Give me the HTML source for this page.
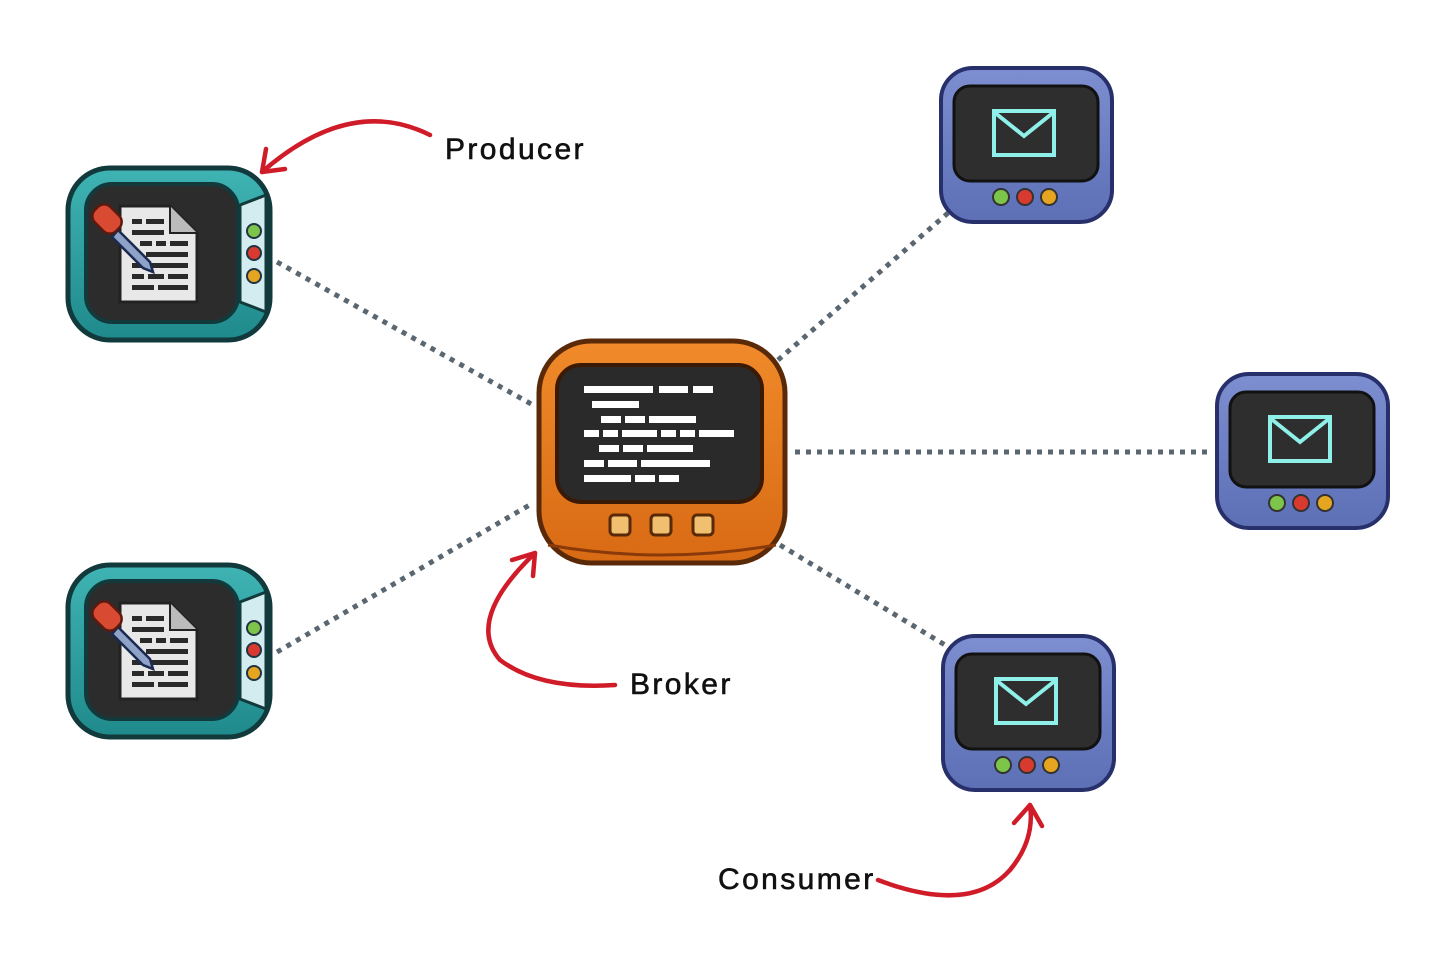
<!DOCTYPE html>
<html><head><meta charset="utf-8"><style>
html,body{margin:0;padding:0;background:#fff;}
svg{display:block}
text{font-family:"Liberation Sans",sans-serif;font-size:30px;fill:#111;stroke:#111;stroke-width:0.6;letter-spacing:2.4px}
</style></head><body>
<svg width="1456" height="969" viewBox="0 0 1456 969" xmlns="http://www.w3.org/2000/svg">
<defs>
<linearGradient id="teal" x1="0" y1="0" x2="0" y2="1"><stop offset="0" stop-color="#3fb3b3"/><stop offset="1" stop-color="#1f8a8c"/></linearGradient>
<linearGradient id="org" x1="0" y1="0" x2="0" y2="1"><stop offset="0" stop-color="#f08a2a"/><stop offset="1" stop-color="#d86a14"/></linearGradient>
<linearGradient id="blu" x1="0" y1="0" x2="0" y2="1"><stop offset="0" stop-color="#7d8fd0"/><stop offset="1" stop-color="#5d6fb5"/></linearGradient>
<g id="prod">
 <rect x="68" y="168" width="202" height="172" rx="42" fill="url(#teal)" stroke="#123a3c" stroke-width="5"/>
 <path d="M240 205 L266 195 L266 312 L240 302 Z" fill="#d3ecef" stroke="#123a3c" stroke-width="3"/>
 <rect x="86" y="184" width="152" height="138" rx="26" fill="#2c2c2c" stroke="#123a3c" stroke-width="4"/>
 <circle cx="254" cy="231" r="7" fill="#7cc44a" stroke="#234" stroke-width="2"/>
 <circle cx="254" cy="253" r="7" fill="#d93a30" stroke="#234" stroke-width="2"/>
 <circle cx="254" cy="276" r="7" fill="#e6a520" stroke="#234" stroke-width="2"/>
 <path d="M120 206 L170 206 L197 233 L197 302 L120 302 Z" fill="#e8e8e8" stroke="#222" stroke-width="3"/>
 <path d="M170 206 L170 233 L197 233" fill="#bbb" stroke="#222" stroke-width="2"/>
 <g fill="#2a2a2a">
  <rect x="132" y="219" width="10" height="5"/><rect x="146" y="219" width="18" height="5"/>
  <rect x="132" y="230" width="32" height="5"/>
  <rect x="140" y="241" width="12" height="5"/><rect x="156" y="241" width="10" height="5"/><rect x="170" y="241" width="18" height="5"/>
  <rect x="132" y="252" width="10" height="5"/><rect x="146" y="252" width="42" height="5"/>
  <rect x="132" y="263" width="56" height="5"/>
  <rect x="132" y="274" width="12" height="5"/><rect x="148" y="274" width="16" height="5"/><rect x="168" y="274" width="20" height="5"/>
  <rect x="132" y="285" width="22" height="5"/><rect x="158" y="285" width="30" height="5"/>
 </g>
 <path d="M118 230 L150 262 L153 272 L143 268 L112 237 Z" fill="#8fa3c8" stroke="#1a2a50" stroke-width="2.5"/>
 <rect x="92" y="208" width="30" height="22" rx="9" transform="rotate(45 107 219)" fill="#d84a32" stroke="#5a1a10" stroke-width="2.5"/>
</g>
<g id="cons">
 <rect x="941" y="68" width="171" height="154" rx="32" fill="url(#blu)" stroke="#27306a" stroke-width="4"/>
 <rect x="954" y="86" width="144" height="95" rx="16" fill="#2e2e2e" stroke="#111" stroke-width="3"/>
 <rect x="994" y="111" width="60" height="44" fill="none" stroke="#8ff0ea" stroke-width="4"/>
 <path d="M994 112 L1024 136 L1054 112" fill="none" stroke="#8ff0ea" stroke-width="4"/>
 <circle cx="1001" cy="197" r="8" fill="#7cc44a" stroke="#333" stroke-width="2"/>
 <circle cx="1025" cy="197" r="8" fill="#d93a30" stroke="#333" stroke-width="2"/>
 <circle cx="1049" cy="197" r="8" fill="#e6a520" stroke="#333" stroke-width="2"/>
</g>
</defs>
<g stroke="#5a6670" stroke-width="5" stroke-dasharray="5 6" fill="none">
 <line x1="277" y1="262" x2="533" y2="405"/>
 <line x1="277" y1="652" x2="533" y2="503"/>
 <line x1="778" y1="360" x2="948" y2="213"/>
 <line x1="795" y1="452" x2="1213" y2="452"/>
 <line x1="780" y1="545" x2="950" y2="648"/>
</g>
<use href="#prod"/>
<use href="#prod" transform="translate(0,397)"/>
<use href="#cons"/>
<use href="#cons" transform="translate(276,306)"/>
<use href="#cons" transform="translate(2,568)"/>
<rect x="539" y="341" width="246" height="222" rx="52" fill="url(#org)" stroke="#5a2a08" stroke-width="5"/>
<path d="M548 545 Q662 565 776 545" fill="none" stroke="#8a3a0a" stroke-width="3"/>
<rect x="557" y="365" width="205" height="137" rx="24" fill="#2a2a2a" stroke="#3a1a05" stroke-width="4"/>
<g fill="#fff">
 <rect x="584" y="386" width="69" height="7"/><rect x="659" y="386" width="29" height="7"/><rect x="693" y="386" width="20" height="7"/>
 <rect x="592" y="401" width="47" height="7"/>
 <rect x="601" y="416" width="20" height="7"/><rect x="625" y="416" width="20" height="7"/><rect x="649" y="416" width="47" height="7"/>
 <rect x="584" y="430" width="15" height="7"/><rect x="603" y="430" width="15" height="7"/><rect x="622" y="430" width="35" height="7"/><rect x="661" y="430" width="15" height="7"/><rect x="680" y="430" width="15" height="7"/><rect x="699" y="430" width="35" height="7"/>
 <rect x="599" y="445" width="20" height="7"/><rect x="623" y="445" width="20" height="7"/><rect x="647" y="445" width="46" height="7"/>
 <rect x="584" y="460" width="20" height="7"/><rect x="608" y="460" width="29" height="7"/><rect x="641" y="460" width="69" height="7"/>
 <rect x="584" y="475" width="47" height="7"/><rect x="635" y="475" width="20" height="7"/><rect x="659" y="475" width="20" height="7"/>
</g>
<g fill="#f0c070" stroke="#5a2a08" stroke-width="3">
 <rect x="610" y="515" width="20" height="20" rx="4"/><rect x="651" y="515" width="20" height="20" rx="4"/><rect x="693" y="515" width="20" height="20" rx="4"/>
</g>
<g stroke="#d01c28" stroke-width="4.5" fill="none" stroke-linecap="round" stroke-linejoin="round">
 <path d="M430 135 Q350 95 262 172"/>
 <path d="M262 172 L266 149 M262 172 L285 169"/>
 <path d="M615 685 Q540 690 500 660 Q465 620 535 553"/>
 <path d="M535 553 L512 560 M535 553 L533 576"/>
 <path d="M878 880 Q970 915 1010 870 Q1035 840 1030 805"/>
 <path d="M1030 805 L1014 823 M1030 805 L1042 826"/>
</g>
<text x="445" y="159">Producer</text>
<text x="630" y="694">Broker</text>
<text x="718" y="889">Consumer</text>
</svg>
</body></html>
